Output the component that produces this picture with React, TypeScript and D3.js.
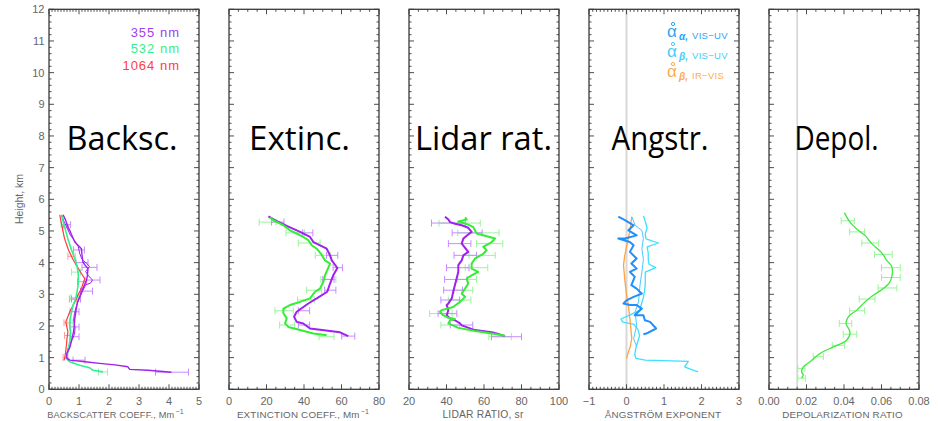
import React from "react";
import * as d3 from "d3";

// ---------- data ----------
// each pair is [value, height km]
const heightTicks = [0, 1, 2, 3, 4, 5, 6, 7, 8, 9, 10, 11, 12];

const bscTicks = [0, 1, 2, 3, 4, 5];
const extTicks = [0, 20, 40, 60, 80];
const lrTicks = [20, 40, 60, 80, 100];
const angTicks = [-1, 0, 1, 2, 3];
const depTicks = [0, 0.02, 0.04, 0.06, 0.08];

const bsc355: [number, number][] = [[0.47,5.51],[0.55,5.35],[0.62,5.15],[0.69,5.02],[0.78,4.82],[0.86,4.65],[1.0,4.52],[1.08,4.44],[1.1,4.25],[1.13,4.02],[1.22,3.9],[1.3,3.81],[1.28,3.6],[1.25,3.44],[1.13,3.18],[1.02,2.92],[0.95,2.75],[0.91,2.55],[0.86,2.23],[0.84,2.0],[0.82,1.83],[0.75,1.52],[0.69,1.31],[0.6,1.15],[0.58,1.0],[0.69,0.92],[1.2,0.87],[1.69,0.82],[2.2,0.77],[2.63,0.71],[2.69,0.63],[3.3,0.6],[3.8,0.56],[4.08,0.54]];
const bsc355b: [number, number][] = [[0.42,5.5],[0.5,5.3],[0.6,5.1],[0.72,4.85],[0.85,4.7],[0.98,4.5],[1.02,4.3],[1.1,4.1],[1.25,3.98],[1.35,3.88],[1.22,3.72],[1.32,3.58],[1.45,3.45],[1.38,3.35],[1.22,3.3],[1.12,3.1],[1.0,2.85],[0.92,2.65],[0.85,2.4],[0.82,2.2],[0.87,1.95],[0.85,1.75],[0.8,1.62],[0.7,1.45],[0.62,1.25],[0.6,1.08]];
const bsc532: [number, number][] = [[0.41,5.51],[0.5,5.2],[0.63,4.75],[0.75,4.4],[0.86,4.12],[0.93,3.9],[0.97,3.7],[0.98,3.5],[0.97,3.28],[0.93,3.05],[0.89,2.86],[0.8,2.65],[0.75,2.44],[0.7,2.2],[0.69,2.02],[0.72,1.8],[0.71,1.6],[0.67,1.4],[0.63,1.18],[0.58,0.97],[0.69,0.87],[1.02,0.76],[1.36,0.68],[1.47,0.6],[1.8,0.55]];
const bsc1064: [number, number][] = [[0.36,5.51],[0.42,5.2],[0.52,4.75],[0.65,4.4],[0.8,4.1],[1.02,3.75],[1.19,3.49],[1.08,3.18],[0.95,2.95],[0.86,2.76],[0.69,2.44],[0.56,2.13],[0.6,1.95],[0.63,1.81],[0.6,1.6],[0.58,1.39],[0.55,1.15],[0.52,0.97],[0.5,0.92]];
// error bars: [value, height, error]
const bars355: [number, number, number][] = [[0.6,5.2,0.12],[1.0,4.4,0.18],[1.1,4.0,0.2],[1.35,3.85,0.25],[1.45,3.45,0.25],[1.25,3.1,0.2],[0.9,2.85,0.15],[0.85,2.45,0.15],[0.85,1.97,0.15],[0.85,1.66,0.15],[1.0,0.92,0.2],[4.1,0.54,0.55]];
const bars532: [number, number, number][] = [[0.5,5.2,0.1],[0.9,3.7,0.15],[0.85,2.9,0.12],[0.7,2.1,0.1],[1.8,0.55,0.15]];
const bars1064: [number, number, number][] = [[0.55,5.1,0.1],[0.75,4.2,0.12],[1.1,3.4,0.15],[0.8,2.85,0.12],[0.6,2.1,0.1],[0.62,1.7,0.1],[0.55,1.0,0.08]];

const ext355: [number, number][] = [[21.0,5.46],[24.5,5.34],[30.8,5.16],[37.9,4.97],[43.2,4.81],[45.0,4.65],[52.1,4.44],[53.9,4.23],[54.8,4.07],[57.8,3.83],[55.6,3.6],[53.9,3.34],[52.4,3.08],[46.8,2.87],[42.3,2.71],[36.1,2.45],[34.7,2.29],[36.1,2.13],[39.6,2.08],[43.2,1.92],[53.9,1.84],[59.2,1.8],[63.6,1.68]];
const ext532: [number, number][] = [[21.9,5.43],[23.6,5.34],[29.0,5.18],[32.5,5.02],[36.1,4.92],[39.6,4.81],[42.3,4.71],[44.1,4.55],[46.8,4.44],[49.4,4.25],[51.2,4.07],[53.9,3.97],[52.4,3.76],[51.2,3.6],[50.3,3.39],[48.5,3.18],[45.9,3.08],[43.2,2.87],[37.9,2.76],[32.5,2.66],[29.0,2.55],[29.0,2.4],[30.8,2.24],[29.9,2.08],[31.6,1.97],[37.9,1.87],[45.0,1.76],[52.1,1.71]];
const barsExt355: [number, number, number][] = [[26,5.28,3.3],[42,4.94,2.7],[55,4.23,3],[58,3.84,2.5],[53,3.47,3],[54,3.13,3],[40,2.48,3],[40,2.03,3],[63.6,1.68,3.5]];
const barsExt532: [number, number, number][] = [[20.6,5.28,4.5],[35.3,4.94,4.9],[42.8,4.62,5.8],[50,4.23,4],[53,3.47,4],[45.4,3.13,4],[41,2.82,4.5],[29.4,2.48,4.9],[31,2.03,4],[52,1.66,4]];

const lr355: [number, number][] = [[39.2,5.45],[41.0,5.36],[41.9,5.28],[44.5,5.23],[48.1,5.18],[51.6,5.1],[53.4,4.97],[51.6,4.89],[49.0,4.76],[48.1,4.6],[49.5,4.5],[51.6,4.34],[49.0,4.23],[48.1,4.07],[46.3,3.92],[46.3,3.71],[45.4,3.5],[44.5,3.29],[43.6,3.08],[42.8,2.87],[41.0,2.71],[40.1,2.66],[41.0,2.5],[40.1,2.34],[41.9,2.24],[44.5,2.18],[47.2,2.08],[48.1,2.02],[55.2,1.87],[64.1,1.8],[66.7,1.76],[71.2,1.68]];
const lr532: [number, number][] = [[49.9,5.43],[50.8,5.36],[46.3,5.3],[51.6,5.2],[54.3,5.12],[56.1,4.92],[65.9,4.76],[64.1,4.65],[59.6,4.5],[61.4,4.39],[59.6,4.28],[55.2,4.13],[53.4,3.97],[53.4,3.81],[56.9,3.71],[53.4,3.6],[50.8,3.5],[51.6,3.34],[49.9,3.18],[48.1,3.02],[49.9,2.92],[47.2,2.76],[43.6,2.6],[37.4,2.5],[36.5,2.45],[38.2,2.34],[41.0,2.26],[44.5,2.22],[41.9,2.18],[41.0,2.08],[46.3,1.94],[55.2,1.84],[64.1,1.76],[71.2,1.69]];
const barsLr355: [number, number, number][] = [[41,5.25,9],[51,4.94,8],[47,4.6,6],[50,4.23,6],[46,3.84,6],[45,3.47,6],[43.5,3.13,5],[42,2.82,5],[40.5,2.39,5],[48,2.03,6],[72,1.66,8]];
const barsLr532: [number, number, number][] = [[47,5.25,11],[57,4.94,11],[63,4.6,7],[59,4.23,7],[56,3.84,6],[51,3.47,5],[49,3.13,5],[47,2.82,6],[37,2.39,6],[42,2.03,5],[68.6,1.66,6]];

const angAlphaUV: [number, number][] = [[-0.22,5.45],[-0.04,5.34],[0.19,5.18],[0.05,5.02],[0.27,4.86],[-0.04,4.76],[-0.22,4.76],[0.09,4.65],[0.19,4.55],[0.09,4.34],[0.27,4.13],[0.13,3.97],[0.27,3.81],[0.09,3.71],[0.22,3.55],[0.13,3.29],[0.27,3.18],[0.41,3.02],[0.19,2.92],[0.0,2.81],[-0.08,2.71],[0.09,2.66],[0.27,2.66],[0.41,2.55],[0.22,2.34],[0.45,2.34],[0.49,2.18],[0.63,2.13],[0.79,1.92],[0.53,1.76],[0.45,1.74]];
const angBetaUV: [number, number][] = [[0.45,5.48],[0.5,5.3],[0.55,5.1],[0.5,4.9],[0.52,4.75],[0.85,4.62],[0.55,4.5],[0.58,4.3],[0.58,4.1],[0.6,3.95],[0.78,3.84],[0.5,3.7],[0.5,3.5],[0.5,3.3],[0.48,3.1],[0.45,2.9],[0.4,2.7],[0.35,2.5],[0.1,2.35],[-0.15,2.22],[-0.1,2.12],[0.2,2.05],[0.3,1.9],[0.35,1.7],[0.3,1.5],[0.25,1.3],[0.22,1.1],[0.25,0.98],[0.5,0.92],[1.2,0.9],[1.65,0.88],[1.6,0.8],[1.55,0.71],[1.65,0.66],[1.91,0.55]];
const angBetaUV2: [number, number][] = [[0.14,5.45],[0.23,5.18],[0.41,5.02],[0.45,4.76],[0.41,4.44],[0.45,4.1],[0.41,3.71],[0.36,3.29],[0.32,2.76],[0.23,2.45],[0.27,2.02],[0.19,1.6],[0.27,1.35]];
const angBetaIR: [number, number][] = [[0.14,5.45],[0.09,5.0],[0.0,4.5],[-0.05,4.2],[-0.08,3.92],[-0.04,3.39],[0.0,3.0],[0.05,2.66],[0.1,2.13],[0.14,1.6],[0.1,1.35],[0.05,1.18],[0.0,0.97]];

const depol532: [number, number][] = [[0.0402,5.58],[0.0432,5.28],[0.0476,5.02],[0.0512,4.86],[0.0548,4.6],[0.0601,4.31],[0.0628,4.07],[0.0654,3.89],[0.0658,3.66],[0.0645,3.39],[0.061,3.18],[0.0556,2.97],[0.0512,2.76],[0.0468,2.5],[0.0423,2.29],[0.0411,2.08],[0.0432,1.81],[0.0414,1.55],[0.0343,1.34],[0.0272,1.13],[0.0219,0.87],[0.0183,0.71],[0.0174,0.55],[0.0183,0.45],[0.0174,0.35]];
const barsDepol: [number, number, number][] = [[0.042,5.32,0.0035],[0.047,4.97,0.004],[0.054,4.62,0.0045],[0.061,4.26,0.0047],[0.065,3.84,0.005],[0.065,3.53,0.005],[0.0632,3.2,0.005],[0.0523,2.85,0.0042],[0.047,2.48,0.004],[0.0408,2.08,0.0033],[0.0432,1.74,0.0036],[0.037,1.39,0.0033],[0.0263,1.03,0.0027],[0.0173,0.66,0.0019],[0.0174,0.35,0.002]];

// ---------- layout ----------
const PW = 150;
const Y_BOT = 389.3;
const Y_TOP = 9.3;
const yScale = d3.scaleLinear().domain([0, 12]).range([Y_BOT, Y_TOP]);

const PURPLE = "#a020f0";
const PURPLE_L = "#c68cff";
const MINT = "#33f08a";
const MINT_L = "#8ff5bb";
const GREEN = "#33ee33";
const GREEN_L = "#99f599";
const RED = "#ff3b3b";
const RED_L = "#ff9a9a";
const BLUE = "#1e90ff";
const CYAN = "#3ee0ff";
const CYAN2 = "#4cc8ff";
const ORANGE = "#ffa347";

type Line = { data: [number, number][]; color: string; width: number; curve?: boolean };
type Bars = { data: [number, number, number][]; color: string };
type Panel = {
  left: number;
  domain: [number, number];
  ticks: number[];
  minor: number;
  fmt: (d: number) => string;
  title: string;
  sup?: string;
  titleX: number;
  titleSize: number;
  label: string;
  labelX: number;
  labelW: number;
  lines: Line[];
  bars: Bars[];
  ref?: { v: number; color: string; width: number };
};

const panels: Panel[] = [
  {
    left: 49, domain: [0, 5], ticks: bscTicks, minor: 0.1, fmt: (d) => String(d),
    title: "BACKSCATTER COEFF., Mm", sup: "−1", titleX: 115.5, titleSize: 9.2,
    label: "Backsc.", labelX: 122, labelW: 111,
    bars: [{ data: bars1064, color: RED_L }, { data: bars532, color: MINT_L }, { data: bars355, color: PURPLE_L }],
    lines: [
      { data: bsc1064, color: RED, width: 1.2 },
      { data: bsc355b, color: PURPLE, width: 1 },
      { data: bsc532, color: MINT, width: 1.6 },
      { data: bsc355, color: PURPLE, width: 1.4 },
    ],
  },
  {
    left: 229, domain: [0, 80], ticks: extTicks, minor: 5, fmt: (d) => String(d),
    title: "EXTINCTION COEFF., Mm", sup: "−1", titleX: 303, titleSize: 9.8,
    label: "Extinc.", labelX: 299.5, labelW: 101,
    bars: [{ data: barsExt532, color: GREEN_L }, { data: barsExt355, color: PURPLE_L }],
    lines: [
      { data: ext355, color: PURPLE, width: 2 },
      { data: ext532, color: GREEN, width: 2 },
    ],
  },
  {
    left: 409, domain: [20, 100], ticks: lrTicks, minor: 5, fmt: (d) => String(d),
    title: "LIDAR RATIO, sr", titleX: 483, titleSize: 10.3,
    label: "Lidar rat.", labelX: 483.5, labelW: 137,
    bars: [{ data: barsLr532, color: GREEN_L }, { data: barsLr355, color: PURPLE_L }],
    lines: [
      { data: lr355, color: PURPLE, width: 2 },
      { data: lr532, color: GREEN, width: 2 },
    ],
  },
  {
    left: 589, domain: [-1, 3], ticks: angTicks, minor: 0.1, fmt: (d) => (d < 0 ? "−" + Math.abs(d) : String(d)),
    title: "ÅNGSTRÖM EXPONENT", titleX: 663, titleSize: 9.8,
    label: "Angstr.", labelX: 660, labelW: 97,
    ref: { v: 0, color: "#d8d8d8", width: 2 },
    bars: [],
    lines: [
      { data: angBetaIR, color: ORANGE, width: 1.3 },
      { data: angBetaUV, color: CYAN, width: 1.3 },
      { data: angBetaUV2, color: CYAN2, width: 1 },
      { data: angAlphaUV, color: BLUE, width: 2 },
    ],
  },
  {
    left: 769, domain: [0, 0.08], ticks: depTicks, minor: 0.005, fmt: (d) => d3.format(".2f")(d),
    title: "DEPOLARIZATION RATIO", titleX: 842.5, titleSize: 9.8,
    label: "Depol.", labelX: 836.5, labelW: 84,
    ref: { v: 0.015, color: "#c8c8c8", width: 1.2 },
    bars: [{ data: barsDepol, color: GREEN_L }],
    lines: [{ data: depol532, color: "#3ee83e", width: 1.3, curve: true }],
  },
];

const AX = "#3a3a3a";
const TXT = "#666";
const FONT = "'Liberation Sans', Arial, sans-serif";

function PanelView({ p }: { p: Panel }) {
  const x = d3.scaleLinear().domain(p.domain).range([p.left, p.left + PW]);
  const right = p.left + PW;
  const n = Math.round((p.domain[1] - p.domain[0]) / p.minor);
  const minorX = d3.range(n + 1).map((i) => p.domain[0] + i * p.minor);
  const minorY = d3.range(61).map((i) => i * 0.2);
  const lineGen = (l: Line) =>
    d3
      .line<[number, number]>()
      .x((d) => x(d[0]))
      .y((d) => yScale(d[1]))
      .curve(l.curve ? d3.curveCatmullRom.alpha(0.5) : d3.curveLinear)(l.data) || "";
  const isMajorX = (v: number) => p.ticks.some((t) => Math.abs(t - v) < p.minor / 10);
  const isMajorY = (v: number) => Math.abs(v - Math.round(v)) < 0.01;
  return (
    <g>
      {p.ref && (
        <line x1={x(p.ref.v)} x2={x(p.ref.v)} y1={Y_TOP} y2={Y_BOT} stroke={p.ref.color} strokeWidth={p.ref.width} />
      )}
      {/* error bars */}
      {p.bars.map((b, bi) => (
        <g key={bi} stroke={b.color} strokeWidth={1} fill="none">
          {b.data.map((d, i) => {
            const y = yScale(d[1]);
            const x1 = x(d[0] - d[2]);
            const x2 = x(d[0] + d[2]);
            return (
              <g key={i}>
                <line x1={x1} x2={x2} y1={y} y2={y} />
                <line x1={x1} x2={x1} y1={y - 3.5} y2={y + 3.5} />
                <line x1={x2} x2={x2} y1={y - 3.5} y2={y + 3.5} />
              </g>
            );
          })}
        </g>
      ))}
      {p.lines.map((l, i) => (
        <path key={i} d={lineGen(l)} fill="none" stroke={l.color} strokeWidth={l.width} strokeLinejoin="round" />
      ))}
      {/* frame */}
      <rect x={p.left} y={Y_TOP} width={PW} height={Y_BOT - Y_TOP} fill="none" stroke={AX} strokeWidth={1.3} />
      {/* x ticks */}
      {minorX.map((v, i) => {
        const len = isMajorX(v) ? 5 : 2.5;
        const xx = x(v);
        return (
          <g key={"x" + i} stroke={AX} strokeWidth={0.9}>
            <line x1={xx} x2={xx} y1={Y_BOT} y2={Y_BOT - len} />
            <line x1={xx} x2={xx} y1={Y_TOP} y2={Y_TOP + len} />
          </g>
        );
      })}
      {/* y ticks */}
      {minorY.map((v, i) => {
        const len = isMajorY(v) ? 5 : 2.5;
        const yy = yScale(v);
        return (
          <g key={"y" + i} stroke={AX} strokeWidth={0.9}>
            <line x1={p.left} x2={p.left + len} y1={yy} y2={yy} />
            <line x1={right} x2={right - len} y1={yy} y2={yy} />
          </g>
        );
      })}
      {/* tick labels */}
      {p.ticks.map((t, i) => (
        <text key={"tl" + i} x={x(t)} y={405} textAnchor="middle" fontSize={11} fill={TXT} fontFamily={FONT}>
          {p.fmt(t)}
        </text>
      ))}
      <text x={p.titleX} y={418} textAnchor="middle" fontSize={p.titleSize} letterSpacing={0.2} fill={TXT} fontFamily={FONT}>
        {p.title}
        {p.sup && (
          <tspan dx={1} dy={-4} fontSize={7}>
            {p.sup}
          </tspan>
        )}
      </text>
      <text
        x={p.labelX - p.labelW / 2}
        y={150}
        textAnchor="start"
        fontSize={33}
        fill="#000"
        fontFamily="'Open Sans', sans-serif"
        textLength={p.labelW}
        lengthAdjust="spacingAndGlyphs"
      >
        {p.label}
      </text>
    </g>
  );
}

const legend1 = [
  { text: "355 nm", color: "#a040f0", y: 36.5 },
  { text: "532 nm", color: "#33f08a", y: 53 },
  { text: "1064 nm", color: "#ff4040", y: 69.5 },
];

const legend4 = [
  { sub: "α,", tail: "VIS−UV", color: "#2ea4f5", y: 37 },
  { sub: "β,", tail: "VIS−UV", color: "#45cdf7", y: 57 },
  { sub: "β,", tail: " IR−VIS", color: "#ffaa50", y: 77 },
];

export default function App() {
  return (
    <svg width={938} height={421} style={{ display: "block", position: "absolute", left: 0, top: 0, background: "#fff" }}>
      <rect width={938} height={421} fill="#fff" />
      {panels.map((p, i) => (
        <PanelView key={i} p={p} />
      ))}
      {/* height axis labels */}
      {heightTicks.map((h) => (
        <text key={h} x={44.5} y={yScale(h)} dy="0.36em" textAnchor="end" fontSize={11} fill={TXT} fontFamily={FONT}>
          {h}
        </text>
      ))}
      <text
        transform="translate(23,199) rotate(-90)"
        textAnchor="middle"
        fontSize={10.5}
        fill={TXT}
        fontFamily={FONT}
      >
        Height, km
      </text>
      {/* legend panel 1 */}
      {legend1.map((l) => (
        <text key={l.text} x={180} y={l.y} textAnchor="end" fontSize={13} letterSpacing={1} fill={l.color} fontFamily={FONT}>
          {l.text}
        </text>
      ))}
      {/* legend panel 4 */}
      {legend4.map((l, i) => (
        <g key={i} fill={l.color} fontFamily={FONT}>
          <circle cx={673} cy={l.y - 13} r={1.6} fill="none" stroke={l.color} strokeWidth={1} />
          <text x={667} y={l.y} fontSize={17}>
            α
          </text>
          <text x={679} y={l.y + 3} fontSize={10} fontWeight="bold" fontStyle="italic">
            {l.sub}
          </text>
          <text x={692} y={l.y + 2} fontSize={9.5} letterSpacing={0.3}>
            {l.tail}
          </text>
        </g>
      ))}
    </svg>
  );
}
